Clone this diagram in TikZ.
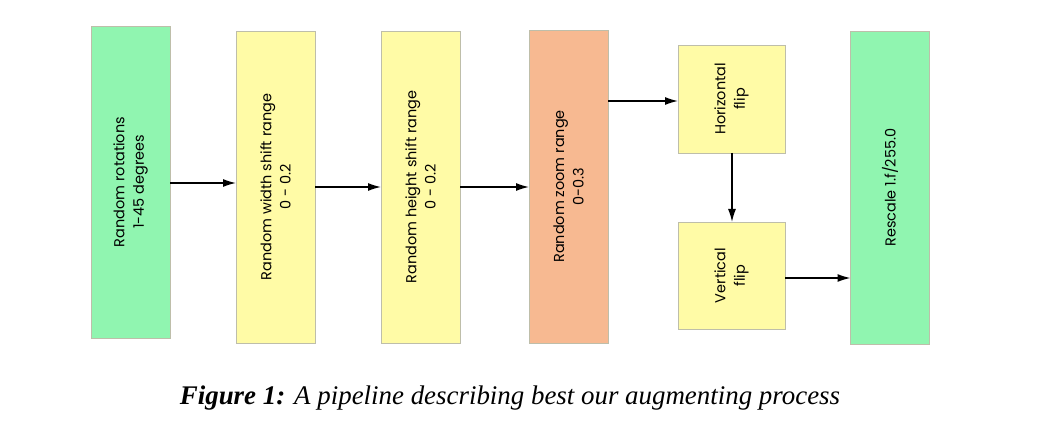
\documentclass[tikz,border=0pt]{standalone}
\usepackage{fontspec}
\setmainfont{Liberation Serif}
\newfontfamily\boxfont{Poppins}
\usetikzlibrary{arrows.meta}
\definecolor{bgreen}{RGB}{144,245,176}
\definecolor{byellow}{RGB}{255,251,166}
\definecolor{borange}{RGB}{247,185,145}
\definecolor{bborder}{RGB}{190,190,170}
\tikzset{
  box/.style={draw=bborder, line width=0.8bp, inner sep=0pt, outer sep=0pt},
  lbl/.style={rotate=90, align=center, font=\boxfont\fontsize{14.5}{19.5}\selectfont},
  arr/.style={line width=1.4bp, -{Latex[length=13bp,width=8bp]}}
}
\begin{document}
\begin{tikzpicture}[x=1bp,y=-1bp]
\useasboundingbox (0,0) rectangle (1037,441);
\node[box, fill=bgreen, minimum width=79bp, minimum height=312bp] (b1) at (130.5,182) {};
\node[box, fill=byellow, minimum width=79bp, minimum height=312bp] (b2) at (275.5,187) {};
\node[box, fill=byellow, minimum width=79bp, minimum height=312bp] (b3) at (420.5,187) {};
\node[box, fill=borange, minimum width=79bp, minimum height=313bp] (b4) at (568.5,186.5) {};
\node[box, fill=byellow, minimum width=107bp, minimum height=108bp] (b5) at (731.5,99) {};
\node[box, fill=byellow, minimum width=107bp, minimum height=107bp] (b6) at (731.5,275.5) {};
\node[box, fill=bgreen, minimum width=79bp, minimum height=313bp] (b7) at (890,187.5) {};
\node[lbl] (t1) at (b1) {Random rotations\\1-45 degrees};
\node[lbl] (t2) at (b2) {Random width shift range\\0 - 0.2};
\node[lbl] (t3) at (b3) {Random height shift range\\0 - 0.2};
\node[lbl] (t4) at (b4) {Random zoom range\\0-0.3};
\node[lbl] (t5) at (b5) {Horizontal\\flip};
\node[lbl] (t6) at (b6) {Vertical\\flip};
\node[lbl] (t7) at (b7) {Rescale 1.f/255.0};
\draw[arr] (b1.east |- 0,183) -- (b2.west |- 0,183);
\draw[arr] (b2.east |- 0,187) -- (b3.west |- 0,187);
\draw[arr] (b3.east |- 0,187) -- (b4.west |- 0,187);
\draw[arr] (b4.east |- 0,101) -- (b5.west |- 0,101);
\draw[arr] (b5.south -| 732,0) -- (b6.north -| 732,0);
\draw[arr] (b6.east |- 0,278) -- (b7.west |- 0,278);
\node[font=\fontsize{27}{32}\selectfont] (cap) at (510,398) {\textbf{\textit{Figure 1:}} \textit{A pipeline describing best our augmenting process}};
\end{tikzpicture}
\end{document}
